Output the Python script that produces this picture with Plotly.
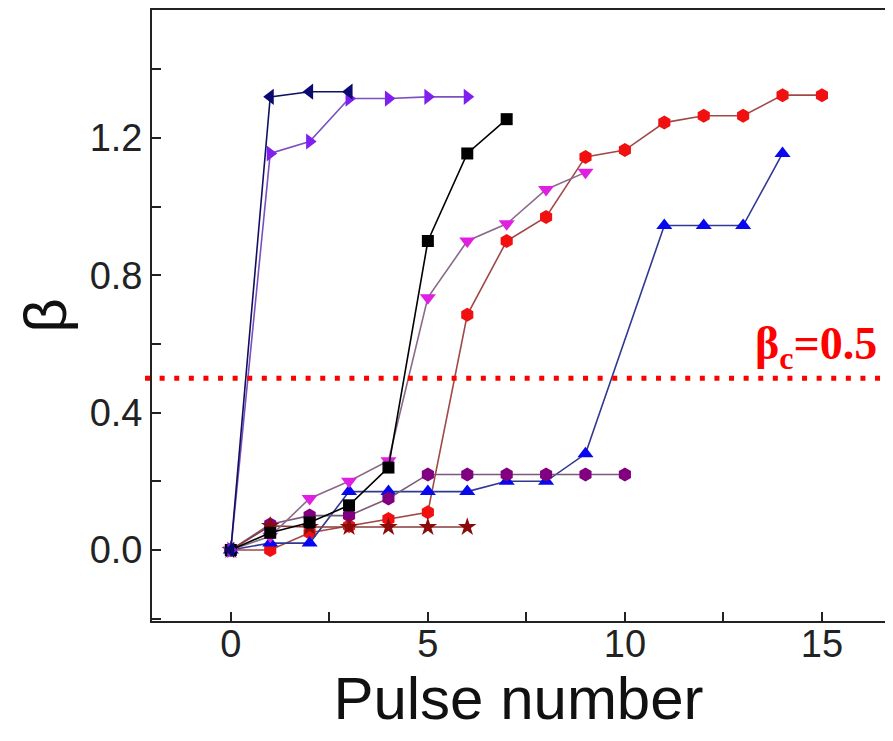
import plotly.graph_objects as go

# ---- data ----
x_navy = [0, 1, 2, 3]
y_navy = [0.0, 1.32, 1.335, 1.335]

x_violet = [0, 1, 2, 3, 4, 5, 6]
y_violet = [0.0, 1.155, 1.19, 1.315, 1.315, 1.32, 1.32]

x_black = [0, 1, 2, 3, 4, 5, 6, 7]
y_black = [0.0, 0.05, 0.08, 0.13, 0.24, 0.90, 1.155, 1.255]

x_magenta = [0, 1, 2, 3, 4, 5, 6, 7, 8, 9]
y_magenta = [0.0, 0.04, 0.15, 0.20, 0.26, 0.735, 0.90, 0.95, 1.05, 1.10]

x_red = [0, 1, 2, 3, 4, 5, 6, 7, 8, 9, 10, 11, 12, 13, 14, 15]
y_red = [0.0, 0.0, 0.05, 0.07, 0.09, 0.11, 0.685, 0.90, 0.97, 1.145, 1.165, 1.245, 1.265, 1.265, 1.325, 1.325]

x_blue = [0, 1, 2, 3, 4, 5, 6, 7, 8, 9, 11, 12, 13, 14]
y_blue = [0.0, 0.02, 0.02, 0.17, 0.17, 0.17, 0.17, 0.20, 0.20, 0.28, 0.945, 0.945, 0.945, 1.155]

x_purple = [0, 1, 2, 3, 4, 5, 6, 7, 8, 9, 10]
y_purple = [0.0, 0.075, 0.10, 0.10, 0.15, 0.22, 0.22, 0.22, 0.22, 0.22, 0.22]

x_maroon = [0, 1, 2, 3, 4, 5, 6]
y_maroon = [0.0, 0.07, 0.067, 0.067, 0.067, 0.067, 0.067]

beta_c = 0.5
x_ticks = [0, 5, 10, 15]
y_ticks = [0.0, 0.4, 0.8, 1.2]
y_tick_text = ["0.0", "0.4", "0.8", "1.2"]

series = [
    (x_red, y_red, "hexagon", "#f01010", "#a04848", 14),
    (x_blue, y_blue, "triangle-up", "#0808f0", "#303890", 14),
    (x_purple, y_purple, "hexagon", "#800080", "#7a5a7a", 14),
    (x_maroon, y_maroon, "star", "#8b0a0a", "#8b3a3a", 14),
    (x_magenta, y_magenta, "triangle-down", "#e020e0", "#8a6a8a", 14),
    (x_black, y_black, "square", "#000000", "#000000", 12),
    (x_violet, y_violet, "triangle-right", "#8020ee", "#7a50c0", 14),
    (x_navy, y_navy, "triangle-left", "#0a0a70", "#101060", 14),
]

fig = go.Figure()
for xs, ys, sym, mc, lc, sz in series:
    fig.add_trace(go.Scatter(
        x=xs, y=ys, mode="lines+markers",
        line=dict(color=lc, width=1.6),
        marker=dict(symbol=sym, color=mc, size=sz, line=dict(width=0)),
        showlegend=False,
    ))

fig.add_shape(type="line", xref="paper", yref="y", x0=-0.0095, x1=1.0,
              y0=beta_c, y1=beta_c,
              line=dict(color="#ff0000", width=5, dash="5px,9.6px"))

fig.add_annotation(x=16.45, y=0.59, xref="x", yref="y", xanchor="right", yanchor="middle",
                   text="β<sub>c</sub>=0.5", showarrow=False,
                   font=dict(family="Liberation Serif", size=46, color="#ff0000", weight="bold"))

axis_font = dict(family="Liberation Sans, Arial", size=38, color="#222222")
fig.update_xaxes(
    range=[-2.0, 16.6], tickvals=x_ticks, ticks="inside", ticklen=9, tickwidth=1.5,
    tickcolor="#222", showline=True, linecolor="#222", linewidth=1.8, mirror=True,
    showgrid=False, zeroline=False, tickfont=axis_font, automargin=False,
    ticklabelstandoff=-12,
    minor=dict(ticks="inside", dtick=2.5, tick0=0, ticklen=9, tickwidth=1.5, tickcolor="#222"),
    title=dict(text="Pulse number", font=dict(family="Liberation Sans, Arial", size=60, color="#111"),
               standoff=0),
)
fig.update_yaxes(
    range=[-0.207, 1.573], tickvals=y_ticks, ticktext=y_tick_text, ticks="inside", ticklen=9,
    tickwidth=1.5, tickcolor="#222", showline=True, linecolor="#222", linewidth=1.8,
    showgrid=False, zeroline=False, tickfont=axis_font, automargin=False,
    minor=dict(ticks="inside", dtick=0.2, tick0=0, ticklen=9, tickwidth=1.5, tickcolor="#222"),
    title=dict(text="β", font=dict(family="Liberation Sans, Arial", size=60, color="#111"),
               standoff=4),
)
# the page body has an 8px margin: shrink the figure so it fits the 893x741 window
fig.update_layout(
    width=877, height=725,
    margin=dict(l=144, r=0, t=2, b=112),
    plot_bgcolor="white", paper_bgcolor="white",
)
fig.write_html("out.html")
